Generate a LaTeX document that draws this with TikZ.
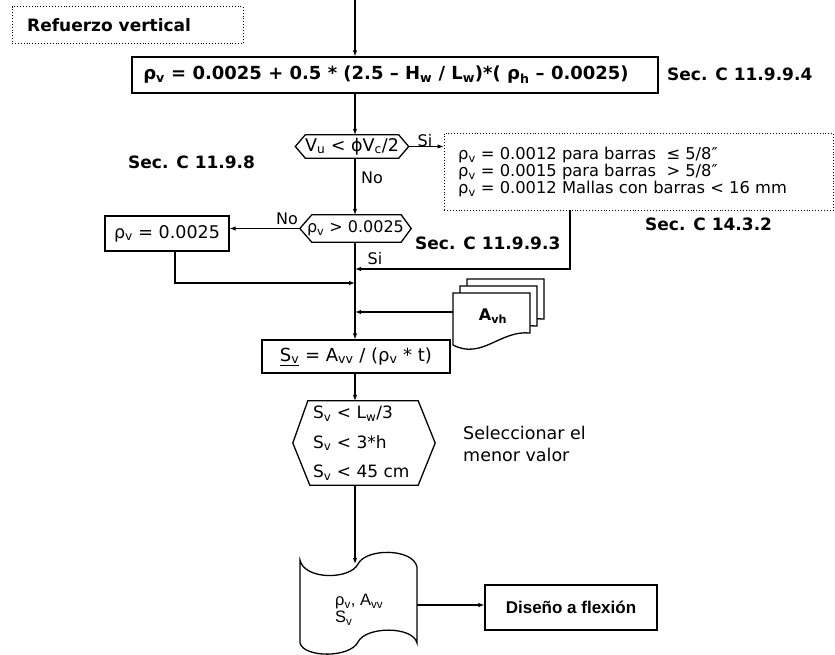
\documentclass[tikz,border=0pt]{standalone}
\usepackage{fontspec}
\setmainfont{DejaVu Sans}
\newfontfamily\arialf{Liberation Sans}
\usetikzlibrary{arrows.meta}
\begin{document}
\begin{tikzpicture}[x=1pt,y=-1pt,
  box/.style={draw,line width=1.3pt,inner sep=0pt},
  arr/.style={line width=1.1pt,-{Latex[length=6pt,width=4.5pt]}},
  shp/.style={line width=1.3pt},
  dbox/.style={draw,dotted,line width=0.9pt,inner sep=0pt},
  txt/.style={inner sep=0pt,anchor=west},
  bigb/.style={font=\fontsize{18}{20}\selectfont\bfseries},
  secf/.style={font=\fontsize{17}{19}\selectfont\bfseries},
  lab/.style={font=\fontsize{16}{18}\selectfont}]
\useasboundingbox (0,0) rectangle (835,654);

% title
\node[dbox,minimum width=231pt,minimum height=37pt] (title) at (127.5,25) {};
\node[txt,secf] (titletxt) at (27,25) {Refuerzo vertical};

% top formula
\coordinate (top) at (355,0);
\node[box,minimum width=526pt,minimum height=36pt] (f1) at (395,75) {};
\node[bigb,inner sep=0pt] (f1txt) at (386,75)
  {ρ\textsubscript{v} = 0.0025 + 0.5 * (2.5 – H\textsubscript{w} / L\textsubscript{w})*( ρ\textsubscript{h} – 0.0025)};
\node[txt,secf] (sec1) at (667,74) {Sec. C 11.9.9.4};
\draw[arr] (top) -- (top |- f1.north);

% decision 1
\node[inner sep=0pt,minimum width=113pt,minimum height=23pt,font=\fontsize{17.5}{20}\selectfont] (d1) at (352,146.5)
  {V\textsubscript{u} < ϕV\textsubscript{c}/2};
\draw[shp] (d1.west) -- ([xshift=10pt]d1.north west) -- ([xshift=-10pt]d1.north east)
  -- (d1.east) -- ([xshift=-10pt]d1.south east) -- ([xshift=10pt]d1.south west) -- cycle;
\draw[arr] (top |- f1.south) -- (top |- d1.north);
\node[txt,secf] (sec2) at (128,162) {Sec. C 11.9.8};

% notes
\node[dbox,minimum width=389pt,minimum height=77pt] (notes) at (638.5,171.5) {};
\node[txt,align=left,font=\fontsize{16.3}{17}\selectfont] (notestxt) at (458,172)
  {ρ\textsubscript{v} = 0.0012 para barras \ ≤ 5/8″\\
   ρ\textsubscript{v} = 0.0015 para barras \ > 5/8″\\
   ρ\textsubscript{v} = 0.0012 Mallas con barras < 16 mm};
\draw[arr] (d1.east) -- (d1.east -| notes.west);
\node[lab,inner sep=0pt] (si1) at (425,141) {Si};
\node[txt,secf] (sec3) at (645,224) {Sec. C 14.3.2};

% decision 2
\node[inner sep=0pt,minimum width=111pt,minimum height=27pt,font=\fontsize{16}{18}\selectfont] (d2) at (355.5,228.5)
  {ρ\textsubscript{v} > 0.0025};
\draw[shp] (d2.west) -- ([xshift=12pt]d2.north west) -- ([xshift=-10pt]d2.north east)
  -- (d2.east) -- ([xshift=-10pt]d2.south east) -- ([xshift=12pt]d2.south west) -- cycle;
\draw[arr] (top |- d1.south) -- (top |- d2.north);
\node[txt,lab] (no1) at (361,178) {No};
\node[txt,secf] (sec4) at (415,243) {Sec. C 11.9.9.3};

% rho box
\node[box,minimum width=124pt,minimum height=35pt,font=\fontsize{17.5}{19}\selectfont] (r) at (167,233.5) {ρ\textsubscript{v} = 0.0025};
\draw[arr] (d2.west) -- (d2.west -| r.east);
\node[lab,inner sep=0pt] (no2) at (287,219) {No};

\coordinate (j1) at (355,283);
\coordinate (j2) at (355,269);
\coordinate (j3) at (355,312);
\coordinate (n1) at (570,210);
\draw[arr] ([xshift=8pt]r.south) |- (j1);
\draw[arr] (n1) |- (j2);
\node[lab,inner sep=0pt] (si2) at (375,259) {Si};

% Avh documents
\foreach \d in {14,7,0}{
  \draw[shp,fill=white] (453+\d,293-\d) -- (530+\d,293-\d) -- (530+\d,333-\d)
    .. controls (500+\d,330-\d) and (482+\d,360-\d) .. (453+\d,345-\d) -- cycle;
}
\node[inner sep=0pt,font=\fontsize{16}{18}\selectfont\bfseries] (avh) at (493,316) {A\textsubscript{vh}};
\coordinate (avhL) at (453,312);
\draw[arr] (avhL) -- (j3);

% Sv box
\node[box,minimum width=188pt,minimum height=33pt,font=\fontsize{18}{20}\selectfont] (sv) at (356,356.5)
  {\underline{S\textsubscript{v}} = A\textsubscript{vv} / (ρ\textsubscript{v} * t)};
\draw[arr] (top |- d2.south) -- (top |- sv.north);

% hexagon 3
\node[inner sep=0pt,minimum width=142pt,minimum height=84pt] (h3) at (364,443) {};
\draw[shp] (h3.west) -- ([xshift=15pt]h3.north west) -- ([xshift=-17pt]h3.north east)
  -- (h3.east) -- ([xshift=-17pt]h3.south east) -- ([xshift=17pt]h3.south west) -- cycle;
\node[txt,align=left,font=\fontsize{17}{29.5}\selectfont] (h3txt) at (313,443)
  {S\textsubscript{v} < L\textsubscript{w}/3\\S\textsubscript{v} < 3*h\\S\textsubscript{v} < 45 cm};
\draw[arr] (top |- sv.south) -- (top |- h3.north);
\node[txt,align=left,font=\fontsize{17.5}{21.5}\selectfont] (sel) at (463,444) {Seleccionar el\\menor valor};

% storage
\draw[shp] (300,560) .. controls (304,580) and (350,580) .. (358,564)
  .. controls (366,548) and (413,548) .. (417,567) -- (417,643)
  .. controls (413,626) and (366,626) .. (358,642)
  .. controls (350,658) and (304,658) .. (300,643) -- cycle;
\node[txt,align=left,font=\arialf\fontsize{16.5}{17}\selectfont] (st) at (335,610)
  {ρ\textsubscript{v}, A\textsubscript{vv}\\S\textsubscript{v}};
\coordinate (stT) at (355,564);
\draw[arr] (top |- h3.south) -- (stT);

% Diseño
\node[box,minimum width=172pt,minimum height=45pt,font=\arialf\fontsize{17}{19}\selectfont\bfseries] (ds) at (571,607.5) {Diseño a flexión};
\coordinate (stR) at (417,605);
\draw[arr] (stR) -- (stR -| ds.west);
\end{tikzpicture}
\end{document}
